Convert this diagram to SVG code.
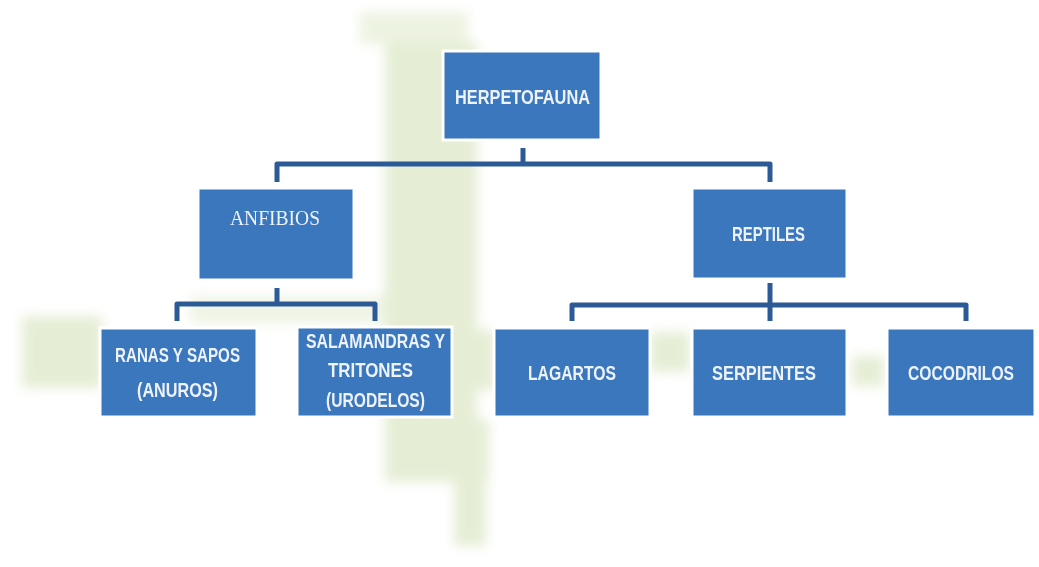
<svg xmlns="http://www.w3.org/2000/svg" width="1039" height="567" viewBox="0 0 1039 567">
<defs>
<filter id="soft" x="-30%" y="-30%" width="160%" height="160%"><feGaussianBlur stdDeviation="6"/></filter>
<style>
.box{fill:#3b77bd;stroke:#ffffff;stroke-width:3}
.lbl{font-family:"Liberation Sans Narrow","Liberation Sans",Arial,sans-serif;font-weight:bold;font-size:20px;fill:#eef3fa}
.ser{font-family:"Liberation Serif","Times New Roman",serif;font-size:21px;fill:#eef3fa}
.con{fill:none;stroke:#2c5a97;stroke-width:5;stroke-linejoin:round;stroke-linecap:butt}
</style>
</defs>
<rect width="1039" height="567" fill="#ffffff"/>
<g id="watermark" fill="#dfe9cb" opacity="0.8" filter="url(#soft)">
<rect x="360" y="12" width="108" height="32" opacity="0.7"/>
<rect x="385" y="42" width="92" height="440"/>
<rect x="385" y="420" width="104" height="60"/>
<rect x="454" y="470" width="32" height="76"/>
<rect x="22" y="316" width="80" height="72"/>
<rect x="190" y="296" width="200" height="28" opacity="0.6"/>
<rect x="650" y="332" width="40" height="40"/>
<rect x="852" y="356" width="32" height="30"/>
<rect x="450" y="330" width="45" height="60"/>
</g>
<g id="connectors" class="con">
<path d="M523 148 V164"/>
<path d="M277 182 V164 H770 V182"/>
<path d="M277 288 V304"/>
<path d="M177 321 V304 H375 V321"/>
<path d="M770 283 V321"/>
<path d="M572 321 V305 H966 V321"/>
</g>
<g id="n-herpetofauna"><rect class="box" x="443" y="51" width="158" height="89"/><text class="lbl" x="455" y="104" textLength="135" lengthAdjust="spacingAndGlyphs">HERPETOFAUNA</text></g>
<g id="n-anfibios"><rect class="box" x="198" y="188" width="156" height="92"/><text class="ser" x="230" y="225" textLength="90" lengthAdjust="spacingAndGlyphs">ANFIBIOS</text></g>
<g id="n-reptiles"><rect class="box" x="692" y="188" width="155" height="91"/><text class="lbl" x="732" y="241" textLength="73" lengthAdjust="spacingAndGlyphs">REPTILES</text></g>
<g id="n-ranas"><rect class="box" x="100" y="328" width="157" height="89"/><text class="lbl" x="115" y="362" textLength="125" lengthAdjust="spacingAndGlyphs">RANAS Y SAPOS</text><text class="lbl" x="137" y="397" textLength="81" lengthAdjust="spacingAndGlyphs">(ANUROS)</text></g>
<g id="n-salamandras"><rect class="box" x="297" y="327" width="155" height="90"/><text class="lbl" x="306" y="348" textLength="139" lengthAdjust="spacingAndGlyphs">SALAMANDRAS Y</text><text class="lbl" x="328" y="377" textLength="85" lengthAdjust="spacingAndGlyphs">TRITONES</text><text class="lbl" x="326" y="407" textLength="99" lengthAdjust="spacingAndGlyphs">(URODELOS)</text></g>
<g id="n-lagartos"><rect class="box" x="494" y="328" width="156" height="89"/><text class="lbl" x="528" y="380" textLength="88" lengthAdjust="spacingAndGlyphs">LAGARTOS</text></g>
<g id="n-serpientes"><rect class="box" x="692" y="328" width="155" height="89"/><text class="lbl" x="712" y="380" textLength="104" lengthAdjust="spacingAndGlyphs">SERPIENTES</text></g>
<g id="n-cocodrilos"><rect class="box" x="887" y="328" width="148" height="89"/><text class="lbl" x="961" y="380" text-anchor="middle" font-size="19" textLength="106" lengthAdjust="spacingAndGlyphs">COCODRILOS</text></g>
</svg>
